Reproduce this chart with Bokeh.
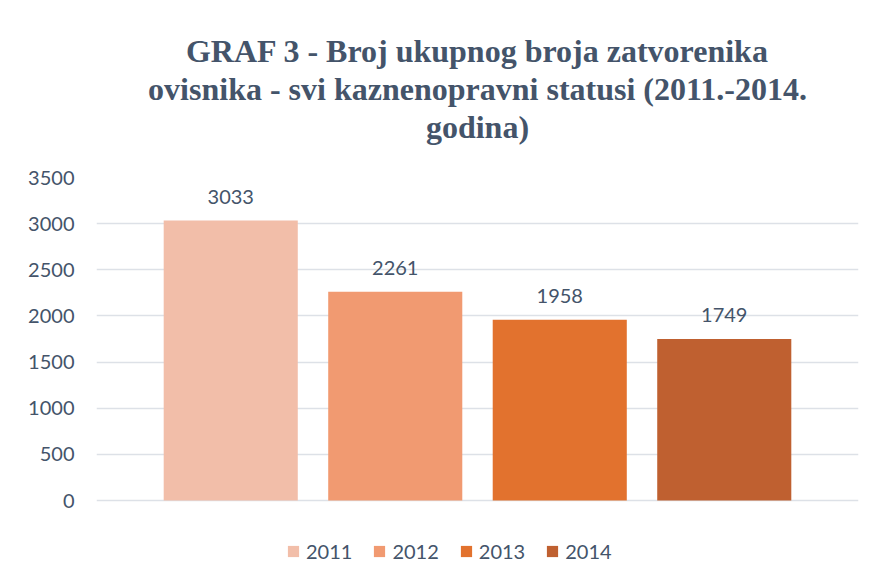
from bokeh.plotting import figure
from bokeh.models import (ColumnDataSource, FactorRange, Range1d, LabelSet,
                          FixedTicker, Legend, LegendItem, Title)
from bokeh.core.properties import value
from bokeh.embed import file_html
from bokeh.resources import INLINE

years = ["2011", "2012", "2013", "2014"]
values = [3033, 2261, 1958, 1749]
y_ticks = [0, 500, 1000, 1500, 2000, 2500, 3000, 3500]
colors = ["#F2BEA9", "#F19A71", "#E2722E", "#BF6030"]
title_lines = ["GRAF 3 - Broj ukupnog broja zatvorenika",
               "ovisnika - svi kaznenopravni statusi (2011.-2014.",
               "godina)"]

src = ColumnDataSource(dict(year=years, value=values, color=colors,
                            label=[str(v) for v in values]))

TEXT = "#44546A"

# the plot area reaches down to the window edge, so that the legend can sit
# inside it below the zero line (the axis only labels 0..3500)
p = figure(frame_width=762, frame_height=408, output_backend="svg",
           toolbar_location=None, x_axis_location=None,
           x_range=FactorRange(factors=years, range_padding=0.316,
                               range_padding_units="absolute"),
           y_range=Range1d(-921, 3500),
           min_border_left=96, min_border_right=18, min_border_top=177,
           min_border_bottom=0)
p.title = None

# spacer between the title block and the plot area
p.add_layout(Title(text="\u00a0", text_font_size="28px", standoff=0), "above")
for line in reversed(title_lines):
    t = Title(text=line, align="center", text_font="Liberation Serif",
              text_font_style="bold", text_font_size="32px", text_color=TEXT,
              standoff=0)
    p.add_layout(t, "above")

r = p.vbar(x="year", top="value", width=0.815, color="color", source=src,
           line_color=None)

labels = LabelSet(x="year", y="value", text="label", source=src,
                  text_align="center", text_baseline="alphabetic", y_offset=17,
                  text_font=value("Lato"), text_font_size=value("20px"),
                  text_color=TEXT)
p.add_layout(labels)

p.xgrid.grid_line_color = None
p.ygrid.grid_line_color = "#DDE1E7"
p.ygrid.grid_line_width = 1.5
p.yaxis.ticker = FixedTicker(ticks=y_ticks)
p.yaxis.axis_line_color = None
p.yaxis.major_tick_line_color = None
p.yaxis.minor_tick_line_color = None
p.yaxis.major_tick_out = 0
p.yaxis.major_tick_in = 0
p.yaxis.major_label_standoff = 22
p.yaxis.major_label_text_font = "Lato"
p.yaxis.major_label_text_font_size = "20px"
p.yaxis.major_label_text_color = TEXT
p.outline_line_color = None

legend = Legend(items=[LegendItem(label=years[i], renderers=[r], index=i)
                       for i in range(len(years))],
                orientation="horizontal")
legend.location = (190, 22)
legend.border_line_color = None
legend.background_fill_alpha = 0
legend.label_text_font = "Lato"
legend.label_text_font_size = "20px"
legend.label_text_color = TEXT
legend.glyph_width = 14
legend.glyph_height = 14
legend.spacing = 20
legend.label_standoff = 6
legend.padding = 10
legend.margin = 0
p.add_layout(legend, "center")

open("out.html", "w").write(file_html(p, INLINE))
